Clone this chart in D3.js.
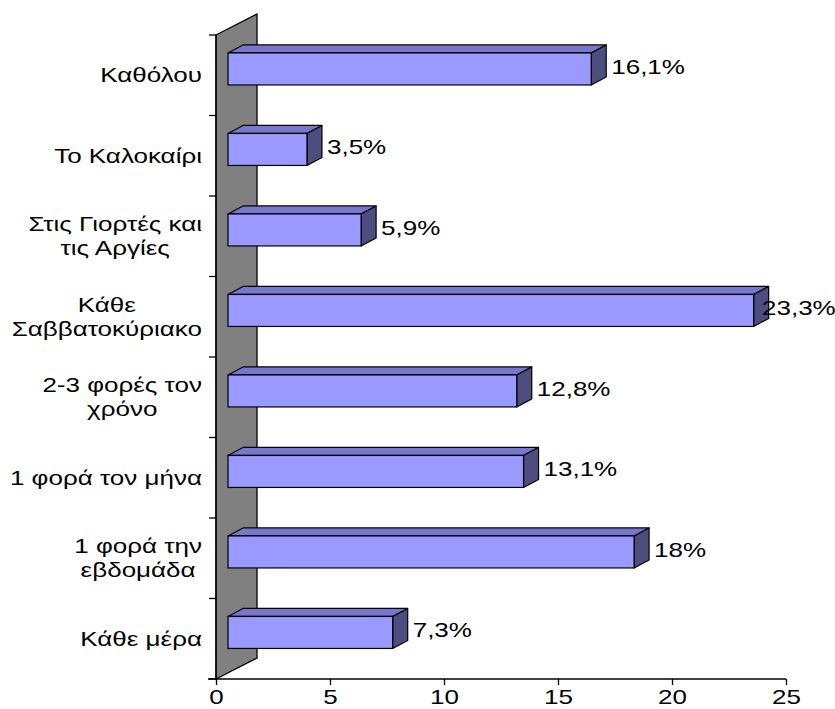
<!DOCTYPE html>
<html>
<head>
<meta charset="utf-8">
<script src="https://cdn.jsdelivr.net/npm/d3@7"></script>
<style>
  body { margin: 0; background: #fff; }
  text { font-family: "Liberation Sans", Arial, sans-serif; fill: #000; }
</style>
</head>
<body>
<div class="chart"></div>
<script>
// data (top to bottom)
const categories = ["Καθόλου", "Το Καλοκαίρι", "Στις Γιορτές και τις Αργίες", "Κάθε Σαββατοκύριακο",
                    "2-3 φορές τον χρόνο", "1 φορά τον μήνα", "1 φορά την εβδομάδα", "Κάθε μέρα"];
const categoryLines = [["Καθόλου"], ["Το Καλοκαίρι"], ["Στις Γιορτές και", "τις Αργίες"], ["Κάθε", "Σαββατοκύριακο"],
                       ["2-3 φορές τον", "χρόνο"], ["1 φορά τον μήνα"], ["1 φορά την", "εβδομάδα"], ["Κάθε μέρα"]];
const values = [16.1, 3.5, 5.9, 23.3, 12.8, 13.1, 18, 7.3];
const valueLabels = ["16,1%", "3,5%", "5,9%", "23,3%", "12,8%", "13,1%", "18%", "7,3%"];
const xTicks = [0, 5, 10, 15, 20, 25];

const W = 835, H = 709;
const sx = 1.3;          // the original text is stretched sideways
const fs = 20;

const svg = d3.select('.chart').append('svg')
    .attr('width', W)
    .attr('height', H);

// scales: axis plane and bars' front plane
const x = d3.scaleLinear().domain([0, 25]).range([216, 786]);
const xf = d3.scaleLinear().domain([0, 25]).range([228, 792]);
const y = d3.scaleBand().domain(categories).range([35, 679]);

const wallDx = 41, wallDy = -21;     // depth of the back wall
const barDx = 15, barDy = -8;        // depth of a bar
const frontShift = -6.3, barH = 32;

// back wall (grey)
const x0 = x(0), yTop = y.range()[0], yBot = y.range()[1];
svg.append('polygon')
    .attr('points', [[x0, yTop], [x0 + wallDx, yTop + wallDy], [x0 + wallDx, yBot + wallDy], [x0, yBot]].join(' '))
    .attr('fill', '#808080')
    .attr('stroke', '#000')
    .attr('stroke-width', 1.3);

// category axis
svg.append('line')
    .attr('x1', x0).attr('x2', x0)
    .attr('y1', yTop).attr('y2', yBot)
    .attr('stroke', '#000').attr('stroke-width', 1.3);
const bounds = categories.map(c => y(c)).concat([yBot]);
svg.selectAll('.ytick').data(bounds).enter().append('line')
    .attr('x1', x0 - 7).attr('x2', x0)
    .attr('y1', d => d).attr('y2', d => d)
    .attr('stroke', '#000').attr('stroke-width', 1.3);

// value axis
const xAxis = svg.append('g')
    .attr('transform', `translate(0,${yBot})`)
    .call(d3.axisBottom(x).tickValues(xTicks).tickSize(6).tickSizeOuter(0).tickPadding(5));
xAxis.select('.domain').attr('stroke', '#000').attr('stroke-width', 1.3)
    .attr('d', `M${x0 - 8},0H${x(25)}`);
xAxis.selectAll('.tick line').attr('stroke', '#000').attr('stroke-width', 1.3);
xAxis.selectAll('.tick text')
    .attr('font-size', fs)
    .attr('font-family', '"Liberation Sans", Arial, sans-serif')
    .attr('fill', '#000')
    .attr('transform', `scale(${sx},1)`);

// bars
const bars = svg.selectAll('.bar').data(categories).enter().append('g').attr('class', 'bar');
const geo = (c, i) => {
  const cy = y(c) + y.bandwidth() / 2 + frontShift;
  return { l: xf(0), r: xf(values[i]), t: cy - barH / 2, b: cy + barH / 2, cy };
};
bars.append('polygon')   // top face
    .attr('points', (c, i) => { const g = geo(c, i);
      return [[g.l, g.t], [g.l + barDx, g.t + barDy], [g.r + barDx, g.t + barDy], [g.r, g.t]].join(' '); })
    .attr('fill', '#7777cc').attr('stroke', '#000').attr('stroke-width', 1.2).attr('stroke-linejoin', 'round');
bars.append('polygon')   // side face
    .attr('points', (c, i) => { const g = geo(c, i);
      return [[g.r, g.t], [g.r + barDx, g.t + barDy], [g.r + barDx, g.b + barDy], [g.r, g.b]].join(' '); })
    .attr('fill', '#4d4d80').attr('stroke', '#000').attr('stroke-width', 1.2).attr('stroke-linejoin', 'round');
bars.append('rect')      // front face
    .attr('x', (c, i) => geo(c, i).l)
    .attr('y', (c, i) => geo(c, i).t)
    .attr('width', (c, i) => geo(c, i).r - geo(c, i).l)
    .attr('height', barH)
    .attr('fill', '#9999ff').attr('stroke', '#000').attr('stroke-width', 1.2);

// value labels
bars.append('text')
    .text((c, i) => valueLabels[i])
    .attr('font-size', fs)
    .attr('dominant-baseline', 'central')
    .attr('transform', (c, i) => {
      const g = geo(c, i);
      const lx = Math.min(g.r + barDx + 5, 762);
      return `translate(${lx},${g.cy - 2}) scale(${sx},1)`;
    });

// category labels, wrapped lines centred in a right-aligned block
const lineH = 24, labelRight = 202;
categories.forEach((c, i) => {
  const lines = categoryLines[i];
  const cy = y(c) + y.bandwidth() / 2;
  const g = svg.append('g');
  const ts = lines.map(ln => g.append('text')
      .text(ln)
      .attr('font-size', fs)
      .attr('text-anchor', 'middle')
      .attr('dominant-baseline', 'central'));
  const maxW = d3.max(ts, t => t.node().getComputedTextLength()) * sx;
  const cx = labelRight - maxW / 2;
  ts.forEach((t, k) => {
    const ly = cy + (k - (lines.length - 1) / 2) * lineH;
    t.attr('transform', `translate(${cx},${ly}) scale(${sx},1)`);
  });
});
</script>
</body>
</html>
